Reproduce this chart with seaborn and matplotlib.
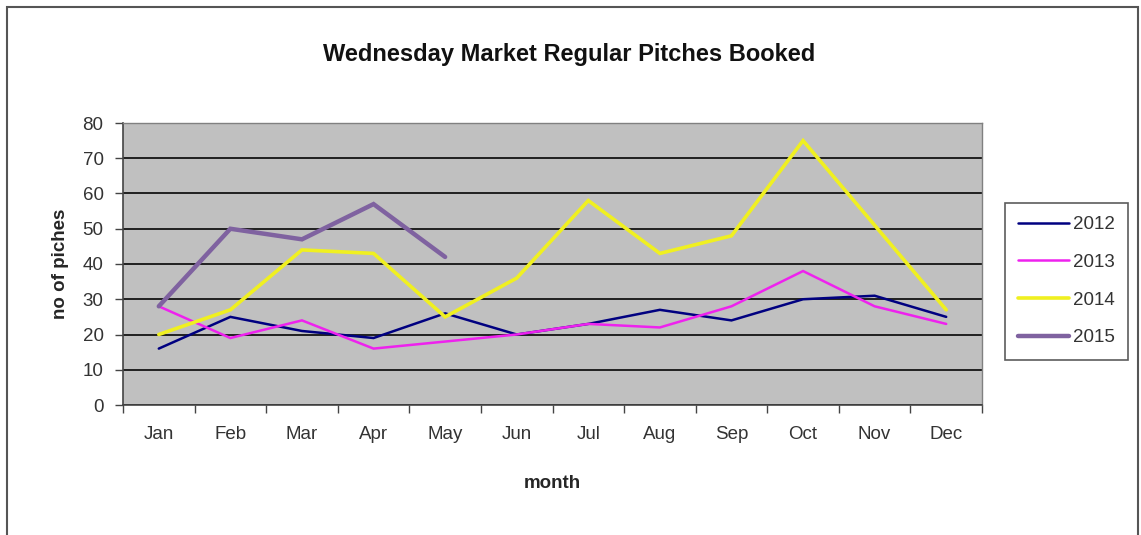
import matplotlib
matplotlib.use("Agg")
import matplotlib.pyplot as plt
from matplotlib.patches import Rectangle
from matplotlib.ticker import FixedLocator
import seaborn as sns
import pandas as pd

months = ["Jan", "Feb", "Mar", "Apr", "May", "Jun", "Jul", "Aug", "Sep", "Oct", "Nov", "Dec"]
y2012 = [16, 25, 21, 19, 26, 20, 23, 27, 24, 30, 31, 25]
y2013 = [28, 19, 24, 16, 18, 20, 23, 22, 28, 38, 28, 23]
y2014 = [20, 27, 44, 43, 25, 36, 58, 43, 48, 75, 51, 27]
y2015 = [28, 50, 47, 57, 42]
years = ["2012", "2013", "2014", "2015"]
colors = ["#000080", "#EE22EE", "#F0F020", "#7F62A0"]
widths = [1.8, 1.8, 2.6, 3.2]

rows = []
for yr, vals in zip(years, [y2012, y2013, y2014, y2015]):
    for m, v in zip(months, vals):
        rows.append({"month": m, "year": yr, "value": v})
df = pd.DataFrame(rows)
df["month"] = pd.Categorical(df["month"], categories=months, ordered=True)
df["mi"] = df["month"].cat.codes

sns.set_style("white")
plt.rcParams["font.family"] = ["Liberation Sans", "DejaVu Sans"]

W, H = 1141, 535
fs = 13.5
fig = plt.figure(figsize=(W / 100, H / 100), dpi=100)
ax = fig.add_axes([123 / W, 1 - 405 / H, (982 - 123) / W, (405 - 123) / H])
ax.set_facecolor("#C0C0C0")

sns.lineplot(data=df, x="mi", y="value", hue="year", hue_order=years,
             palette=dict(zip(years, colors)), ax=ax, legend=False, sort=False)
for line, lw in zip(ax.get_lines(), widths):
    line.set_linewidth(lw)
    line.set_solid_joinstyle("miter")

ax.set_xlim(-0.5, 11.5)
ax.set_ylim(0, 80)
ax.set_yticks(range(0, 81, 10))
ax.yaxis.grid(True, color="#202020", linewidth=1.4)
ax.set_axisbelow(True)
ax.set_xticks(range(12))
ax.set_xticklabels(months, fontsize=fs, color="#333333")
ax.tick_params(axis="x", length=0, pad=15)
ax.xaxis.set_minor_locator(FixedLocator([i - 0.5 for i in range(13)]))
ax.tick_params(axis="x", which="minor", length=6, width=1, color="#444444", direction="out", bottom=True)
ax.tick_params(axis="y", length=6, width=1, color="#444444", direction="out", left=True, pad=8,
               labelsize=fs, labelcolor="#333333")
for side in ["left", "bottom"]:
    ax.spines[side].set_color("#444444")
    ax.spines[side].set_linewidth(1.2)
for side in ["top", "right"]:
    ax.spines[side].set_color("#808080")
    ax.spines[side].set_linewidth(1.0)

ax.set_xlabel("month", fontsize=fs, fontweight="bold", labelpad=23)
ax.set_ylabel("no of piches", fontsize=fs, fontweight="bold", labelpad=10)
fig.text(569 / W, 1 - 54 / H, "Wednesday Market Regular Pitches Booked",
         ha="center", va="center", fontsize=17, fontweight="bold", color="#111111")

handles = [plt.Line2D([], [], color=c, linewidth=lw) for c, lw in zip(colors, widths)]
leg = ax.legend(handles, years, loc="upper left", bbox_to_anchor=(1005 / W, 1 - 203 / H),
                bbox_transform=fig.transFigure, frameon=True, fancybox=False,
                fontsize=fs, labelspacing=1.1, handlelength=2.7, handletextpad=0.2,
                borderpad=0.7, borderaxespad=0)
leg.get_frame().set_edgecolor("#333333")
leg.get_frame().set_linewidth(1.2)
for t in leg.get_texts():
    t.set_color("#333333")

fig.add_artist(Rectangle((7 / W, -0.1), (1138 - 7) / W, 1.1 - 7 / H,
                         transform=fig.transFigure, fill=False, edgecolor="#555555",
                         linewidth=1.5))

fig.savefig("out.png", dpi=100)
